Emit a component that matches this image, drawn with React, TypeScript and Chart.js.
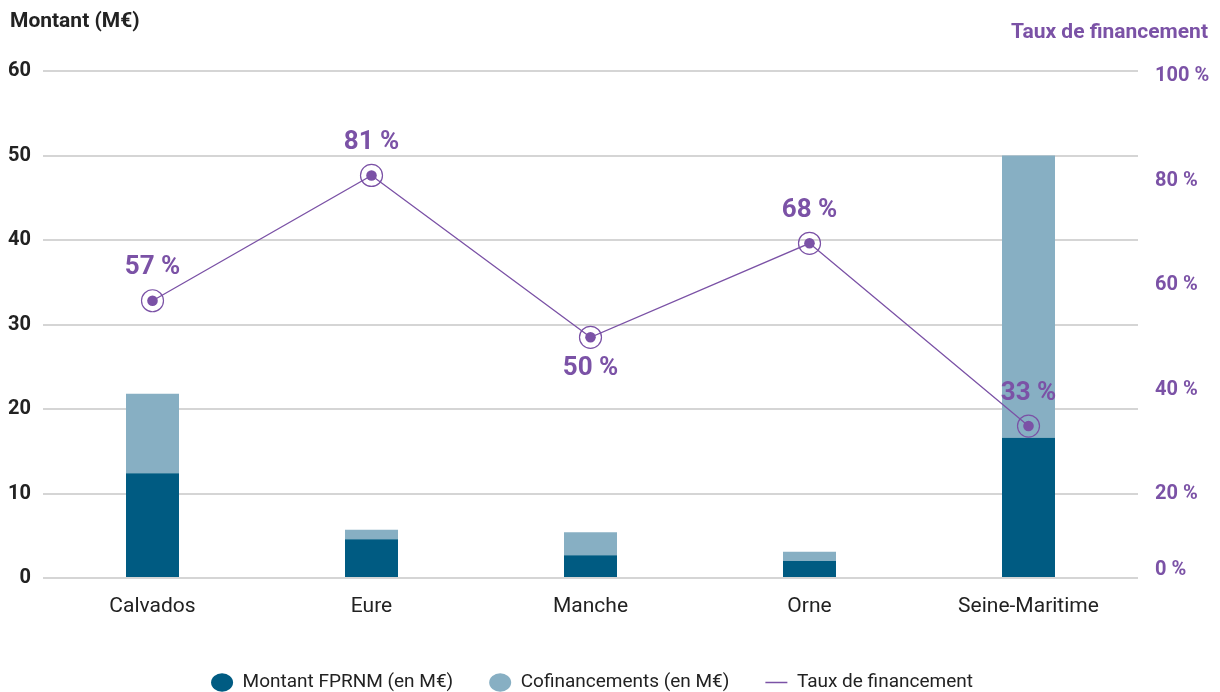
import React, { useEffect, useRef } from 'react';
import { Chart, registerables } from 'chart.js';

Chart.register(...registerables);

// ---- data ----
const categories = ['Calvados', 'Eure', 'Manche', 'Orne', 'Seine-Maritime'];
const fprnm = [12.4, 4.6, 2.7, 2.0, 16.6];
const cofinancements = [9.4, 1.1, 2.7, 1.1, 33.4];
const rates = [57, 81, 50, 68, 33];
const rateLabelSide = ['above', 'above', 'below', 'above', 'above'];
const amountTicks = [0, 10, 20, 30, 40, 50, 60];
const rateTicks = [0, 20, 40, 60, 80, 100];
const rateAxisMin = 3.9;
const rateAxisMax = 101;

const seriesNames = ['Montant FPRNM (en M€)', 'Cofinancements (en M€)', 'Taux de financement'];
const leftTitle = 'Montant (M€)';
const rightTitle = 'Taux de financement';

// ---- styles ----
const DARK = '#005B82';
const LIGHT = '#87AFC3';
const PURPLE = '#7B52A6';
const TEXT = '#222222';
const GRID = '#d5d5d5';
const FONT = 'Roboto';

const overlayPlugin = {
  id: 'overlay',
  afterLayout(chart: any) {
    if (chart.legend) {
      chart.legend.right -= 36;
    }
  },
  afterDatasetsDraw(chart: any) {
    const ctx = chart.ctx;
    const meta = chart.getDatasetMeta(2);
    ctx.save();
    ctx.font = `bold 26px ${FONT}`;
    ctx.fillStyle = PURPLE;
    ctx.textAlign = 'center';
    ctx.textBaseline = 'middle';
    meta.data.forEach((pt: any, i: number) => {
      const dy = rateLabelSide[i] === 'below' ? 31 : -33;
      ctx.fillText(`${rates[i]} %`, pt.x, pt.y + dy);
    });
    ctx.restore();
  },
  afterDraw(chart: any) {
    const ctx = chart.ctx;
    ctx.save();
    ctx.textBaseline = 'middle';
    ctx.font = `bold 21px ${FONT}`;
    ctx.fillStyle = TEXT;
    ctx.textAlign = 'left';
    ctx.fillText(leftTitle, 10, 22);
    ctx.fillStyle = PURPLE;
    ctx.textAlign = 'right';
    ctx.fillText(rightTitle, 1208, 33);
    ctx.restore();
  },
};

export default function App() {
  const ref = useRef<HTMLCanvasElement>(null);

  useEffect(() => {
    const chart = new Chart(ref.current as HTMLCanvasElement, {
      type: 'bar',
      data: {
        labels: categories,
        datasets: [
          {
            type: 'bar',
            label: seriesNames[0],
            data: fprnm,
            backgroundColor: DARK,
            borderWidth: 0,
            barPercentage: 0.242,
            categoryPercentage: 1,
            yAxisID: 'y',
            order: 1,
          },
          {
            type: 'bar',
            label: seriesNames[1],
            data: cofinancements,
            backgroundColor: LIGHT,
            borderWidth: 0,
            barPercentage: 0.242,
            categoryPercentage: 1,
            yAxisID: 'y',
            order: 1,
          },
          {
            type: 'line',
            label: seriesNames[2],
            data: rates,
            borderColor: PURPLE,
            borderWidth: 1.3,
            pointRadius: 5.3,
            pointBackgroundColor: PURPLE,
            pointBorderWidth: 0,
            yAxisID: 'y2',
            order: 0,
          },
          {
            type: 'line',
            label: 'ring',
            data: rates,
            showLine: false,
            pointRadius: 11,
            pointBackgroundColor: 'rgba(0,0,0,0)',
            pointBorderColor: PURPLE,
            pointBorderWidth: 1.2,
            yAxisID: 'y2',
            order: 0,
          },
        ] as any,
      },
      options: {
        responsive: false,
        animation: false,
        layout: { padding: { top: 71, left: 0, right: 0, bottom: 0 } },
        scales: {
          x: {
            stacked: true,
            grid: { display: false, drawTicks: false },
            border: { display: false },
            ticks: { font: { family: FONT, size: 21 }, color: TEXT, padding: 16 },
            afterFit: (s: any) => {
              s.height = 59;
            },
          },
          y: {
            stacked: true,
            position: 'left',
            min: 0,
            max: 60,
            grid: { color: GRID, lineWidth: 2, drawTicks: false },
            border: { display: false },
            ticks: { font: { family: FONT, size: 20, weight: 'bold' }, color: TEXT, padding: 12 },
            afterBuildTicks: (s: any) => {
              s.ticks = amountTicks.map((v) => ({ value: v }));
            },
            afterFit: (s: any) => {
              s.width = 43;
            },
          },
          y2: {
            position: 'right',
            min: rateAxisMin,
            max: rateAxisMax,
            grid: { display: false, drawTicks: false },
            border: { display: false },
            ticks: {
              font: { family: FONT, size: 20, weight: 'bold' },
              color: PURPLE,
              padding: 17,
              autoSkip: false,
              callback: (_v: any, i: number) => `${rateTicks[i]} %`,
            },
            afterBuildTicks: (s: any) => {
              s.ticks = rateTicks.map((v) => ({
                value: Math.min(Math.max(v, s.min + 1.5), s.max),
              }));
            },
            afterFit: (s: any) => {
              s.width = 82;
            },
          },
        } as any,
        plugins: {
          tooltip: { enabled: false },
          legend: {
            position: 'bottom',
            labels: {
              usePointStyle: true,
              pointStyleWidth: 22,
              boxHeight: 13,
              padding: 36,
              color: TEXT,
              font: { family: FONT, size: 19 },
              filter: (item: any) => item.datasetIndex !== 3,
              sort: (a: any, b: any) => a.datasetIndex - b.datasetIndex,
              generateLabels: (c: any) => {
                const items = (Chart.defaults.plugins.legend.labels as any).generateLabels(c);
                items.forEach((it: any) => {
                  if (it.datasetIndex === 2) {
                    it.pointStyle = 'line';
                    it.strokeStyle = PURPLE;
                    it.lineWidth = 1.5;
                  } else {
                    it.pointStyle = 'circle';
                    it.lineWidth = 0;
                    it.strokeStyle = it.fillStyle;
                  }
                });
                return items;
              },
            },
          },
        },
      } as any,
      plugins: [overlayPlugin],
    });
    return () => chart.destroy();
  }, []);

  return (
    <div
      style={{
        position: 'fixed',
        left: 0,
        top: 0,
        width: 1220,
        height: 692,
        overflow: 'hidden',
        background: '#fff',
      }}
    >
      <canvas ref={ref} width={1220} height={702} style={{ display: 'block' }} />
    </div>
  );
}
